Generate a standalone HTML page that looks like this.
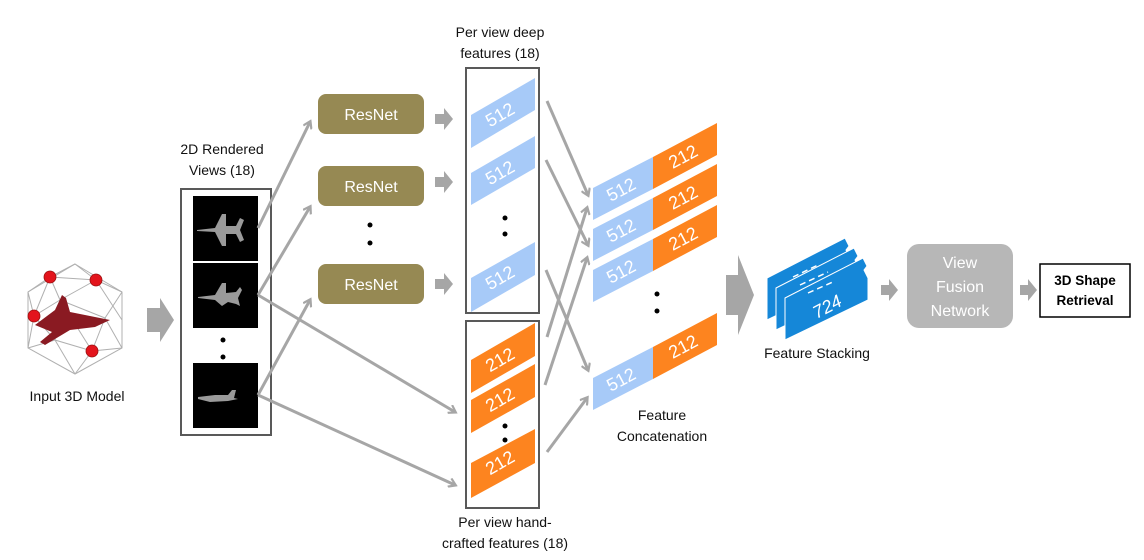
<!DOCTYPE html>
<html><head><meta charset="utf-8"><style>
html,body{margin:0;padding:0;background:#fff}
svg{display:block}
text{font-family:"Liberation Sans",sans-serif}
</style></head><body>
<svg width="1144" height="560" viewBox="0 0 1144 560" xmlns="http://www.w3.org/2000/svg">
<defs>
<marker id="ah" markerWidth="10" markerHeight="10" refX="7" refY="5" orient="auto" markerUnits="userSpaceOnUse" viewBox="0 0 10 10">
<path d="M1,0.5 L8,5 L1,9.5" fill="none" stroke="#a6a6a6" stroke-width="2.2"/>
</marker>
</defs>

<!-- polyhedron -->
<g stroke="#b0b0b0" stroke-width="1" fill="none">
<polygon points="75,264 122,292 122,348 75,374 28,348 28,292"/>
<path d="M75,264 L50,277 L28,292 M75,264 L96,280 L122,292 M50,277 L96,280 M50,277 L34,316 L28,292 M96,280 L122,320 M34,316 L28,348 M34,316 L60,300 L96,280 M60,300 L105,318 L122,292 M105,318 L92,351 L122,348 M92,351 L75,374 M92,351 L55,340 L34,316 M55,340 L28,348 M55,340 L75,374 M105,318 L122,348 M60,300 L55,340 M60,300 L92,351 M50,277 L60,300 M34,316 L60,300"/>
</g>
<path d="M35,325 L55,310 L62,295 L66,298 L70,312 L100,318 L110,320 L95,327 L70,330 L45,345 L40,342 L52,332 Z" fill="#8a1a22"/>
<g fill="#e3141c" stroke="#9a1010" stroke-width="0.8">
<circle cx="50" cy="277" r="6"/><circle cx="96" cy="280" r="6"/><circle cx="34" cy="316" r="6"/><circle cx="92" cy="351" r="6"/>
</g>
<text x="77" y="401" font-size="14" text-anchor="middle" fill="#111">Input 3D Model</text>

<polygon points="147,308 160,308 160,298 174,320 160,342 160,332 147,332" fill="#a6a6a6"/>

<!-- views box -->
<text x="222" y="154" font-size="14" text-anchor="middle" fill="#111">2D Rendered</text>
<text x="222" y="175" font-size="14" text-anchor="middle" fill="#111">Views  (18)</text>
<rect x="181" y="189" width="90" height="246" fill="#fff" stroke="#595959" stroke-width="2"/>
<rect x="193" y="196" width="65" height="65" fill="#000"/>
<rect x="193" y="263" width="65" height="65" fill="#000"/>
<rect x="193" y="363" width="65" height="65" fill="#000"/>
<g fill="#9a9a9a">
<path d="M197,230 L215,228 L222,214 L226,214 L226,226 L236,226 L240,218 L244,220 L240,230 L244,240 L240,242 L236,234 L226,234 L226,246 L222,246 L215,232 L197,231 Z"/>
<path d="M198,297 L215,295 L222,283 L226,283 L226,293 L236,292 L240,287 L242,290 L238,298 L240,306 L236,304 L228,302 L222,306 L215,300 L198,298 Z"/>
<path d="M198,397 L215,395 L228,395 L232,390 L236,390 L234,398 L238,399 L228,401 L210,402 L198,399 Z"/>
</g>
<circle cx="223" cy="340" r="2.5" fill="#000"/><circle cx="223" cy="357" r="2.5" fill="#000"/>

<g stroke="#a6a6a6" stroke-width="3" fill="none" marker-end="url(#ah)">
<line x1="258" y1="228" x2="310" y2="122"/>
<line x1="258" y1="295" x2="310" y2="207"/>
<line x1="258" y1="395" x2="310" y2="300"/>
<line x1="258" y1="295" x2="455" y2="412"/>
<line x1="258" y1="395" x2="455" y2="485"/>
</g>

<!-- resnets -->
<g fill="#968953">
<rect x="318" y="94" width="106" height="40" rx="8"/>
<rect x="318" y="166" width="106" height="40" rx="8"/>
<rect x="318" y="264" width="106" height="40" rx="8"/>
</g>
<g font-size="16" fill="#fff" text-anchor="middle">
<text x="371" y="120">ResNet</text><text x="371" y="192">ResNet</text><text x="371" y="290">ResNet</text>
</g>
<circle cx="370" cy="225" r="2.5" fill="#000"/><circle cx="370" cy="243" r="2.5" fill="#000"/>
<g fill="#a6a6a6">
<polygon points="435,114 444,114 444,108 453,119 444,130 444,124 435,124"/>
<polygon points="435,177 444,177 444,171 453,182 444,193 444,187 435,187"/>
<polygon points="435,279 444,279 444,273 453,284 444,295 444,289 435,289"/>
</g>

<!-- deep features box -->
<text x="500" y="37" font-size="14" text-anchor="middle" fill="#111">Per view deep</text>
<text x="500" y="58" font-size="14" text-anchor="middle" fill="#111">features (18)</text>
<rect x="466" y="68" width="73" height="245" fill="#fff" stroke="#595959" stroke-width="2"/>
<g fill="#a7caf8">
<polygon points="471,115 535,78 535,110 471,148"/>
<polygon points="471,173 535,136 535,168 471,205"/>
<polygon points="471,278 535,242 535,275 471,312"/>
</g>
<g font-size="18" fill="#fff" text-anchor="middle">
<text transform="translate(503,120) rotate(-30)">512</text>
<text transform="translate(503,178) rotate(-30)">512</text>
<text transform="translate(503,283) rotate(-30)">512</text>
</g>
<circle cx="505" cy="218" r="2.5" fill="#000"/><circle cx="505" cy="234" r="2.5" fill="#000"/>

<!-- handcrafted box -->
<rect x="466" y="321" width="73" height="187" fill="#fff" stroke="#595959" stroke-width="2"/>
<g fill="#fd841f">
<polygon points="471,360 535,323 535,356 471,393"/>
<polygon points="471,400 535,364 535,397 471,433"/>
<polygon points="471,463 535,429 535,463 471,498"/>
</g>
<g font-size="18" fill="#fff" text-anchor="middle">
<text transform="translate(503,365) rotate(-30)">212</text>
<text transform="translate(503,405) rotate(-30)">212</text>
<text transform="translate(503,468) rotate(-30)">212</text>
</g>
<circle cx="505" cy="426" r="2.5" fill="#000"/><circle cx="505" cy="440" r="2.5" fill="#000"/>
<text x="505" y="527" font-size="14" text-anchor="middle" fill="#111">Per view hand-</text>
<text x="505" y="548" font-size="14" text-anchor="middle" fill="#111">crafted features (18)</text>

<g stroke="#a6a6a6" stroke-width="3" fill="none" marker-end="url(#ah)">
<line x1="547" y1="101" x2="588" y2="195"/>
<line x1="546" y1="160" x2="588" y2="245"/>
<line x1="546" y1="270" x2="588" y2="370"/>
<line x1="547" y1="337" x2="587" y2="208"/>
<line x1="545" y1="385" x2="587" y2="258"/>
<line x1="547" y1="452" x2="587" y2="398"/>
</g>

<!-- concat rows -->
<polygon points="593,188 653,157 653,189 593,220" fill="#a7caf8"/>
<polygon points="653,157 717,123 717,155 653,189" fill="#fd841f"/>
<polygon points="593,229 653,198 653,230 593,261" fill="#a7caf8"/>
<polygon points="653,198 717,164 717,196 653,230" fill="#fd841f"/>
<polygon points="593,270 653,239 653,271 593,302" fill="#a7caf8"/>
<polygon points="653,239 717,205 717,237 653,271" fill="#fd841f"/>
<polygon points="593,378 653,347 653,379 593,410" fill="#a7caf8"/>
<polygon points="653,347 717,313 717,345 653,379" fill="#fd841f"/>
<g font-size="18" fill="#fff" text-anchor="middle">
<text transform="translate(624,195) rotate(-28)">512</text>
<text transform="translate(686,162) rotate(-28)">212</text>
<text transform="translate(624,236) rotate(-28)">512</text>
<text transform="translate(686,203) rotate(-28)">212</text>
<text transform="translate(624,277) rotate(-28)">512</text>
<text transform="translate(686,244) rotate(-28)">212</text>
<text transform="translate(624,385) rotate(-28)">512</text>
<text transform="translate(686,352) rotate(-28)">212</text>
</g>
<circle cx="657" cy="294" r="2.5" fill="#000"/><circle cx="657" cy="311" r="2.5" fill="#000"/>
<text x="662" y="420" font-size="14" text-anchor="middle" fill="#111">Feature</text>
<text x="662" y="441" font-size="14" text-anchor="middle" fill="#111">Concatenation</text>

<polygon points="726,275 738,275 738,255 754,295 738,335 738,315 726,315" fill="#a6a6a6"/>

<!-- stack -->
<g fill="#1587d8" stroke="#fff" stroke-width="1">
<polygon points="767,278 845,238 849,246 846,250 850,258 850,280 767,320"/>
<polygon points="776,288 854,248 858,256 855,260 859,268 859,290 776,330"/>
<polygon points="785,298 863,258 867,266 864,270 868,278 868,300 785,340"/>
</g>
<g stroke="#fff" stroke-width="1.5" stroke-dasharray="6,4">
<line x1="793" y1="277" x2="818" y2="265"/>
<line x1="800" y1="285" x2="828" y2="272"/>
<line x1="808" y1="293" x2="835" y2="281"/>
</g>
<text transform="translate(830,312) rotate(-28)" font-size="18" font-style="italic" fill="#fff" text-anchor="middle">724</text>
<text x="817" y="358" font-size="14" text-anchor="middle" fill="#111">Feature Stacking</text>

<g fill="#a6a6a6">
<polygon points="881,285 889,285 889,279 898,290 889,301 889,295 881,295"/>
<polygon points="1020,285 1028,285 1028,279 1037,290 1028,301 1028,295 1020,295"/>
</g>
<rect x="907" y="244" width="106" height="84" rx="12" fill="#b7b7b7"/>
<g font-size="16" fill="#fff" text-anchor="middle">
<text x="960" y="268">View</text><text x="960" y="292">Fusion</text><text x="960" y="316">Network</text>
</g>
<rect x="1040" y="264" width="90" height="53" fill="#fff" stroke="#000" stroke-width="1.5"/>
<g font-size="13.5" font-weight="bold" fill="#000" text-anchor="middle">
<text x="1085" y="285">3D Shape</text><text x="1085" y="305">Retrieval</text>
</g>
</svg>
</body></html>
